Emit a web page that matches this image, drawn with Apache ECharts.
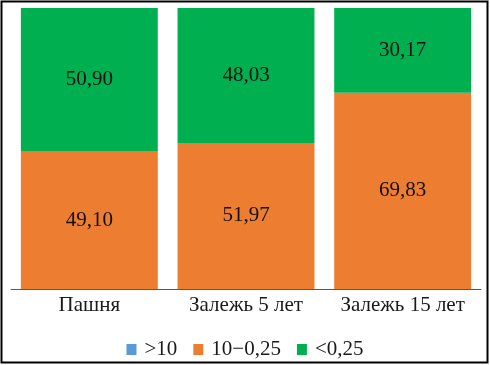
<!DOCTYPE html>
<html>
<head>
<meta charset="utf-8">
<script src="https://cdn.jsdelivr.net/npm/echarts@6/dist/echarts.min.js"></script>
<style>
  html, body { margin: 0; padding: 0; background: #fff; }
  #chart { width: 490px; height: 365px; }
</style>
</head>
<body>
<div id="chart"></div>
<script>
// Soil particle fractions, % (stacked to 100)
const categories = ['Пашня', 'Залежь 5 лет', 'Залежь 15 лет'];
const seriesNames = ['>10', '10\u22120,25', '<0,25'];
const coarse = [0, 0, 0];            // >10
const medium = [49.10, 51.97, 69.83]; // 10−0,25
const fine = [50.90, 48.03, 30.17];   // <0,25

const colors = ['#5B9BD5', '#ED7D31', '#00B050'];
const font = '"Liberation Serif", "Times New Roman", serif';

let chart = echarts.init(document.getElementById('chart'));

function fmt(p) {
  return p.value > 0 ? p.value.toFixed(2).replace('.', ',') : '';
}

chart.setOption({
  animation: false,
  color: colors,
  textStyle: { fontFamily: font },
  grid: { left: 11, right: 9, top: 8, bottom: 76 },
  xAxis: {
    type: 'category',
    data: categories,
    axisTick: { show: false },
    axisLine: { lineStyle: { color: '#595959', width: 1 } },
    axisLabel: { interval: 0, color: '#1a1a1a', fontSize: 21, fontFamily: font, margin: 6 }
  },
  yAxis: {
    type: 'value',
    min: 0,
    max: 100,
    show: false
  },
  legend: {
    top: 334,
    left: 'center',
    itemWidth: 10,
    itemHeight: 11,
    itemGap: 16,
    icon: 'rect',
    textStyle: { color: '#1a1a1a', fontSize: 21, fontFamily: font, padding: [0, 0, 0, 3] },
    data: seriesNames
  },
  series: [coarse, medium, fine].map((d, i) => ({
    name: seriesNames[i],
    type: 'bar',
    stack: 'total',
    data: d,
    barCategoryGap: '12.6%',
    label: {
      show: true,
      position: 'inside',
      formatter: fmt,
      color: '#111',
      fontSize: 21,
      fontFamily: font
    }
  })),
  graphic: [{
    type: 'rect',
    shape: { x: 1.5, y: 1.5, width: 486, height: 361 },
    style: { fill: 'none', stroke: '#000', lineWidth: 2 },
    silent: true
  }]
});
</script>
</body>
</html>
